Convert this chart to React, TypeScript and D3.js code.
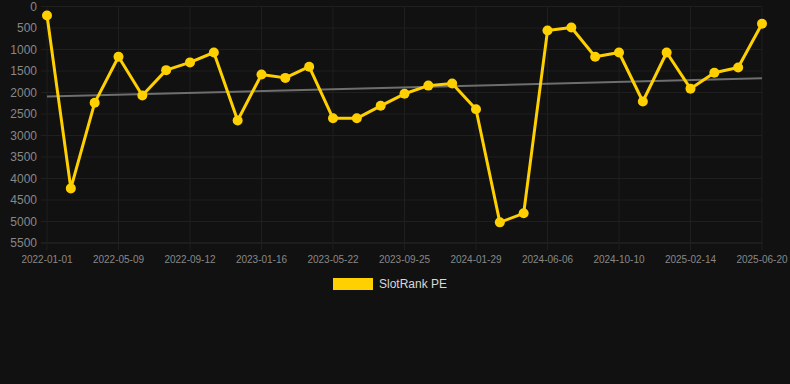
import React from "react";
import * as d3 from "d3";

const categories: string[] = [
  "2022-01-01", "2022-02-12", "2022-03-26", "2022-05-09", "2022-06-19", "2022-07-31",
  "2022-09-12", "2022-10-24", "2022-12-05", "2023-01-16", "2023-02-27", "2023-04-10",
  "2023-05-22", "2023-07-03", "2023-08-14", "2023-09-25", "2023-11-06", "2023-12-18",
  "2024-01-29", "2024-03-12", "2024-04-24", "2024-06-06", "2024-07-18", "2024-08-29",
  "2024-10-10", "2024-11-21", "2025-01-03", "2025-02-14", "2025-03-28", "2025-05-09",
  "2025-06-20",
];

const values: number[] = [
  210, 4230, 2240, 1170, 2070, 1480, 1300, 1070, 2650, 1580, 1660, 1400,
  2600, 2600, 2310, 2030, 1840, 1790, 2390, 5020, 4810, 560, 490, 1170,
  1070, 2210, 1070, 1910, 1540, 1420, 400,
];

const yTicks: number[] = [0, 500, 1000, 1500, 2000, 2500, 3000, 3500, 4000, 4500, 5000, 5500];
const seriesName = "SlotRank PE";

const W = 790;
const H = 384;
const M = { left: 47, right: 762, top: 6.5, bottom: 243 };
const FONT = "'Liberation Sans', Arial, Helvetica, sans-serif";
const GOLD = "#ffd000";

export default function App() {
  const x = d3.scalePoint<string>().domain(categories).range([M.left, M.right]);
  const y = d3.scaleLinear().domain([0, 5500]).range([M.top, M.bottom]);

  const line = d3
    .line<number>()
    .x((_, i) => x(categories[i]) as number)
    .y((d) => y(d));

  // linear regression trend
  const n = values.length;
  const xm = d3.mean(d3.range(n)) as number;
  const ym = d3.mean(values) as number;
  let num = 0;
  let den = 0;
  values.forEach((v, i) => {
    num += (i - xm) * (v - ym);
    den += (i - xm) * (i - xm);
  });
  const slope = num / den;
  const icpt = ym - slope * xm;
  const trend = [icpt, icpt + slope * (n - 1)];

  const shownTicks = categories.filter((_, i) => i % 3 === 0);

  return (
    <div style={{ position: "fixed", left: 0, top: 0, width: W, height: H, background: "#111111" }}>
      <svg width={W} height={H} style={{ display: "block" }}>
        <rect x={0} y={0} width={W} height={H} fill="#111111" />
        {/* horizontal grid */}
        {yTicks.map((t, i) => (
          <g key={"y" + t}>
            <line
              x1={M.left - 6}
              x2={M.right}
              y1={y(t)}
              y2={y(t)}
              stroke={i === yTicks.length - 1 ? "#2a2a2a" : "#1f1f1f"}
              strokeWidth={1}
            />
            <text
              x={37}
              y={y(t)}
              dy="0.35em"
              textAnchor="end"
              fill="#888888"
              fontSize={12}
              fontFamily={FONT}
            >
              {t}
            </text>
          </g>
        ))}
        {/* vertical grid */}
        {shownTicks.map((c) => (
          <g key={"x" + c}>
            <line x1={x(c)} x2={x(c)} y1={M.top} y2={M.bottom + 7} stroke="#1f1f1f" strokeWidth={1} />
            <text
              x={x(c)}
              y={259}
              dy="0.35em"
              textAnchor="middle"
              fill="#888888"
              fontSize={10}
              fontFamily={FONT}
            >
              {c}
            </text>
          </g>
        ))}
        {/* trend */}
        <line
          x1={x(categories[0])}
          x2={x(categories[n - 1])}
          y1={y(trend[0])}
          y2={y(trend[1])}
          stroke="#6e6e6e"
          strokeWidth={2}
        />
        {/* series */}
        <path d={line(values) || ""} fill="none" stroke={GOLD} strokeWidth={3} strokeLinejoin="round" />
        {values.map((v, i) => (
          <circle key={i} cx={x(categories[i])} cy={y(v)} r={5} fill={GOLD} />
        ))}
        {/* legend */}
        <rect x={333} y={278} width={40} height={12} fill={GOLD} />
        <text x={379} y={284} dy="0.35em" fill="#d8d8d8" fontSize={12} fontFamily={FONT}>
          {seriesName}
        </text>
      </svg>
    </div>
  );
}
